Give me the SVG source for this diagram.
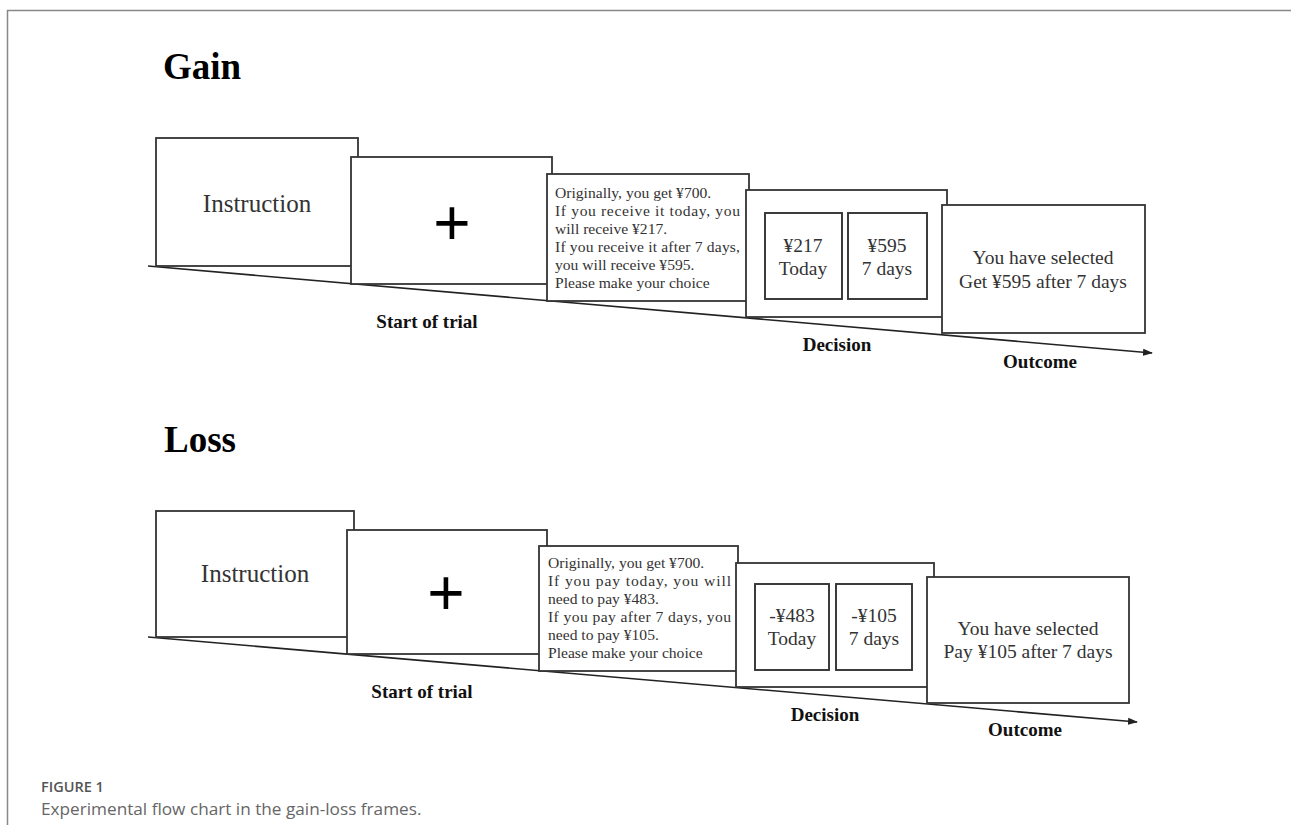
<svg xmlns="http://www.w3.org/2000/svg" width="1291" height="825" viewBox="0 0 1291 825">
<defs>
<marker id="arr" markerWidth="10" markerHeight="8" refX="9" refY="4" orient="auto" markerUnits="userSpaceOnUse">
<path d="M0,0.5 L10,4 L0,7.5 Z" fill="#222"/>
</marker>
</defs>
<style>
.box{fill:#fff;stroke:#333;stroke-width:1.8}
.inner{fill:#fff;stroke:#333;stroke-width:1.9}
.tl{stroke:#222;stroke-width:1.6;fill:none}
.t{font-family:"Liberation Serif","Times New Roman",serif;fill:#333}
.big{font-size:25px}
.mid{font-size:19.5px}
.sm{font-size:15.6px}
.lab{font-family:"Liberation Serif","Times New Roman",serif;font-weight:bold;font-size:19px;fill:#111}
.title{font-family:"Liberation Serif","Times New Roman",serif;font-weight:bold;font-size:37px;fill:#000}
.plus{font-family:"Liberation Sans",Arial,sans-serif;font-size:64px;fill:#000}
.cap1{font-family:"Open Sans","Noto Sans",sans-serif;font-weight:600;font-size:14.5px;fill:#555}
.cap2{font-family:"Open Sans","Noto Sans",sans-serif;font-size:17.2px;fill:#666}
</style>
<rect width="1291" height="825" fill="#fff"/>
<path d="M7.5,825 V10.5 H1291" fill="none" stroke="#888" stroke-width="1.5"/>

<text class="title" x="163" y="79">Gain</text>
<text class="title" x="164" y="452">Loss</text>

<g id="connectors">
<line class="tl" x1="148" y1="266" x2="1152" y2="353" marker-end="url(#arr)"/>
<line class="tl" x1="148" y1="637" x2="1137" y2="722" marker-end="url(#arr)"/>
</g>

<!-- Gain -->
<g id="gain-instruction">
<rect class="box" x="156" y="138" width="202" height="128"/>
<text class="t big" x="257" y="212" text-anchor="middle">Instruction</text>
</g>
<g id="gain-fixation">
<rect class="box" x="351" y="157" width="201" height="127"/>
<text class="plus" x="452" y="245" text-anchor="middle">+</text>
</g>
<g id="gain-offer">
<rect class="box" x="547" y="174" width="202" height="127"/>
<text class="t sm" x="555" y="198">Originally, you get ¥700.</text>
<text class="t sm" x="555" y="216" textLength="185" lengthAdjust="spacing">If you receive it today, you</text>
<text class="t sm" x="555" y="234">will receive ¥217.</text>
<text class="t sm" x="555" y="252" textLength="185" lengthAdjust="spacing">If you receive it after 7 days,</text>
<text class="t sm" x="555" y="270">you will receive ¥595.</text>
<text class="t sm" x="555" y="288">Please make your choice</text>
</g>
<g id="gain-decision">
<rect class="box" x="746" y="190" width="201" height="127"/>
<rect class="inner" x="765" y="213" width="77" height="86"/>
<rect class="inner" x="848" y="213" width="79" height="86"/>
<text class="t mid" x="803" y="252" text-anchor="middle">¥217</text>
<text class="t mid" x="803" y="275" text-anchor="middle">Today</text>
<text class="t mid" x="887" y="252" text-anchor="middle">¥595</text>
<text class="t mid" x="887" y="275" text-anchor="middle">7 days</text>
</g>
<g id="gain-outcome">
<rect class="box" x="942" y="205" width="203" height="128"/>
<text class="t mid" x="1043" y="264" text-anchor="middle">You have selected</text>
<text class="t mid" x="1043" y="288" text-anchor="middle">Get ¥595 after 7 days</text>
</g>
<text class="lab" x="427" y="328" text-anchor="middle">Start of trial</text>
<text class="lab" x="837" y="351" text-anchor="middle">Decision</text>
<text class="lab" x="1040" y="368" text-anchor="middle">Outcome</text>

<!-- Loss -->
<g id="loss-instruction">
<rect class="box" x="156" y="511" width="198" height="126"/>
<text class="t big" x="255" y="582" text-anchor="middle">Instruction</text>
</g>
<g id="loss-fixation">
<rect class="box" x="347" y="530" width="200" height="124"/>
<text class="plus" x="446" y="615" text-anchor="middle">+</text>
</g>
<g id="loss-offer">
<rect class="box" x="539" y="546" width="199" height="125"/>
<text class="t sm" x="548" y="568">Originally, you get ¥700.</text>
<text class="t sm" x="548" y="586" textLength="183" lengthAdjust="spacing">If you pay today, you will</text>
<text class="t sm" x="548" y="604">need to pay ¥483.</text>
<text class="t sm" x="548" y="622" textLength="183" lengthAdjust="spacing">If you pay after 7 days, you</text>
<text class="t sm" x="548" y="640">need to pay ¥105.</text>
<text class="t sm" x="548" y="658">Please make your choice</text>
</g>
<g id="loss-decision">
<rect class="box" x="736" y="563" width="198" height="124"/>
<rect class="inner" x="755" y="584" width="74" height="86"/>
<rect class="inner" x="836" y="584" width="76" height="86"/>
<text class="t mid" x="792" y="622" text-anchor="middle">-¥483</text>
<text class="t mid" x="792" y="645" text-anchor="middle">Today</text>
<text class="t mid" x="874" y="622" text-anchor="middle">-¥105</text>
<text class="t mid" x="874" y="645" text-anchor="middle">7 days</text>
</g>
<g id="loss-outcome">
<rect class="box" x="927" y="577" width="202" height="126"/>
<text class="t mid" x="1028" y="635" text-anchor="middle">You have selected</text>
<text class="t mid" x="1028" y="658" text-anchor="middle">Pay ¥105 after 7 days</text>
</g>
<text class="lab" x="422" y="698" text-anchor="middle">Start of trial</text>
<text class="lab" x="825" y="721" text-anchor="middle">Decision</text>
<text class="lab" x="1025" y="736" text-anchor="middle">Outcome</text>

<text class="cap1" x="41" y="792">FIGURE 1</text>
<text class="cap2" x="41" y="815">Experimental flow chart in the gain-loss frames.</text>
</svg>
